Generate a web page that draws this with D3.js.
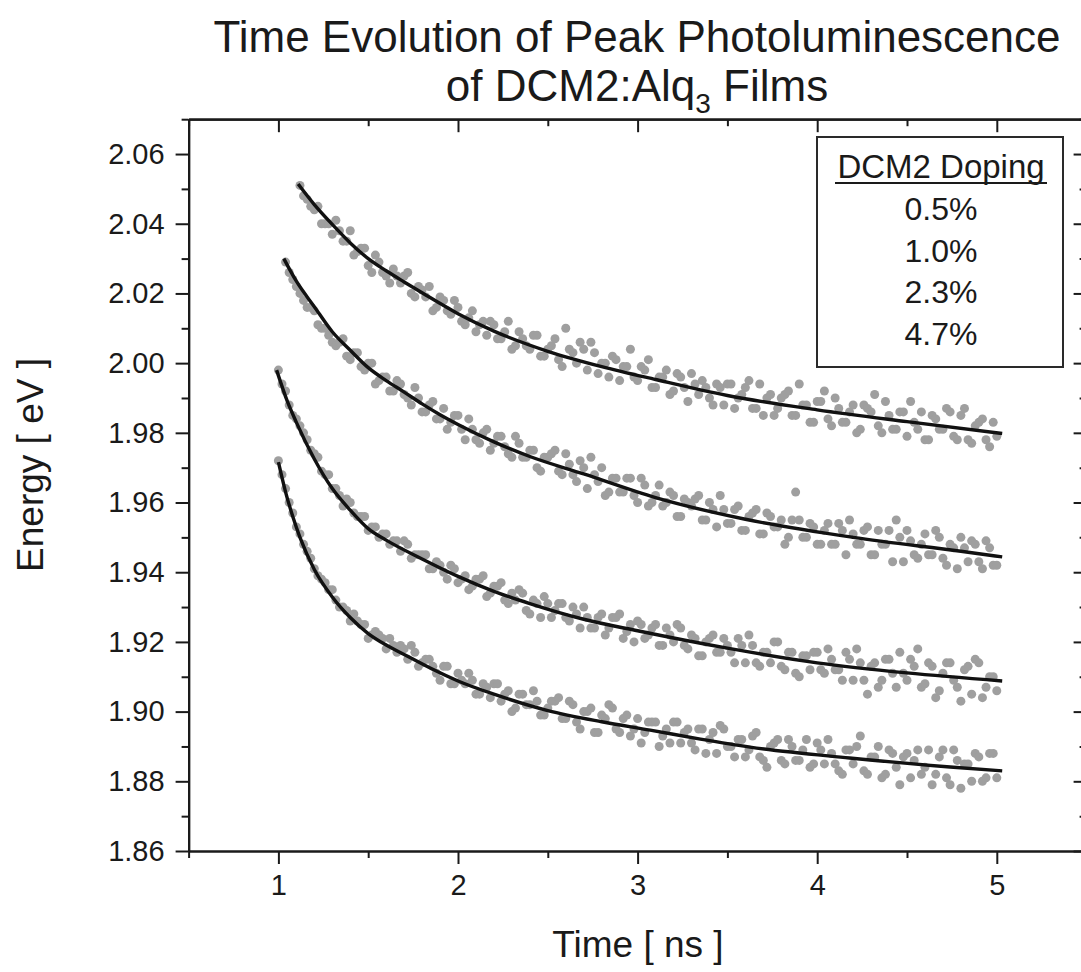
<!DOCTYPE html>
<html>
<head>
<meta charset="utf-8">
<script src="https://cdn.jsdelivr.net/npm/d3@7"></script>
<style>
  body { margin: 0; background: #fff; }
  svg { display: block; font-family: "Liberation Sans", Arial, sans-serif; }
</style>
</head>
<body>
<div id="chart"></div>
<script>
// sample times of the measured peaks (ns)
const times = [1.00,1.02,1.04,1.06,1.08,1.10,1.12,1.14,1.16,1.18,1.20,1.22,1.24,1.26,1.28,1.30,1.32,1.34,1.36,1.38,
  1.40,1.42,1.44,1.46,1.48,1.50,1.52,1.54,1.56,1.58,1.60,1.62,1.64,1.66,1.68,1.70,1.72,1.74,1.76,1.78,
  1.80,1.82,1.84,1.86,1.88,1.90,1.92,1.94,1.96,1.98,2.00,2.02,2.04,2.06,2.08,2.10,2.12,2.14,2.16,2.18,
  2.20,2.22,2.24,2.26,2.28,2.30,2.32,2.34,2.36,2.38,2.40,2.42,2.44,2.46,2.48,2.50,2.52,2.54,2.56,2.58,
  2.60,2.62,2.64,2.66,2.68,2.70,2.72,2.74,2.76,2.78,2.80,2.82,2.84,2.86,2.88,2.90,2.92,2.94,2.96,2.98,
  3.00,3.02,3.04,3.06,3.08,3.10,3.12,3.14,3.16,3.18,3.20,3.22,3.24,3.26,3.28,3.30,3.32,3.34,3.36,3.38,
  3.40,3.42,3.44,3.46,3.48,3.50,3.52,3.54,3.56,3.58,3.60,3.62,3.64,3.66,3.68,3.70,3.72,3.74,3.76,3.78,
  3.80,3.82,3.84,3.86,3.88,3.90,3.92,3.94,3.96,3.98,4.00,4.02,4.04,4.06,4.08,4.10,4.12,4.14,4.16,4.18,
  4.20,4.22,4.24,4.26,4.28,4.30,4.32,4.34,4.36,4.38,4.40,4.42,4.44,4.46,4.48,4.50,4.52,4.54,4.56,4.58,
  4.60,4.62,4.64,4.66,4.68,4.70,4.72,4.74,4.76,4.78,4.80,4.82,4.84,4.86,4.88,4.90,4.92,4.94,4.96,4.98,
  5.00];

const dopings = ["0.5%", "1.0%", "2.3%", "4.7%"];
// index into times where each series begins
const startIndex = [6, 2, 0, 0];

// peak energy (eV), one value per sample
const peak05 = [2.051,2.048,2.047,2.045,2.044,2.045,2.040,2.040,2.040,2.037,2.041,2.038,2.035,2.035,2.038,2.031,2.032,2.033,2.033,2.028,
  2.026,2.031,2.029,2.026,2.025,2.023,2.027,2.025,2.023,2.025,2.026,2.020,2.019,2.022,2.021,2.019,2.022,2.015,2.016,2.019,
  2.018,2.015,2.014,2.018,2.016,2.012,2.011,2.013,2.015,2.009,2.011,2.012,2.008,2.012,2.011,2.007,2.007,2.009,2.012,2.004,
  2.005,2.009,2.007,2.005,2.004,2.008,2.008,2.002,2.002,2.004,2.005,2.007,2.001,1.999,2.010,2.004,2.003,2.000,2.006,2.004,
  1.998,2.006,2.003,1.997,2.000,2.000,1.996,2.002,2.001,1.995,1.999,1.999,2.004,1.996,1.995,1.999,1.998,2.001,1.993,1.993,
  1.996,1.996,1.998,1.991,1.992,1.997,1.996,1.993,1.989,1.997,1.994,1.991,1.995,1.993,1.990,1.988,1.994,1.993,1.988,1.994,
  1.994,1.987,1.990,1.991,1.993,1.995,1.987,1.987,1.994,1.985,1.990,1.991,1.985,1.987,1.990,1.991,1.992,1.985,1.985,1.994,
  1.988,1.988,1.983,1.983,1.989,1.989,1.992,1.984,1.982,1.990,1.987,1.983,1.983,1.986,1.988,1.980,1.981,1.988,1.987,1.986,
  1.991,1.982,1.980,1.989,1.985,1.981,1.981,1.986,1.986,1.979,1.989,1.983,1.981,1.986,1.978,1.978,1.985,1.984,1.981,1.981,
  1.987,1.986,1.979,1.978,1.985,1.987,1.978,1.977,1.982,1.983,1.984,1.978,1.976,1.983,1.979];
const peak10 = [2.029,2.026,2.024,2.022,2.020,2.018,2.016,2.016,2.015,2.011,2.010,2.010,2.008,2.006,2.005,2.006,2.007,2.002,2.001,2.003,
  2.003,1.999,1.998,2.000,2.000,1.994,1.995,1.996,1.996,1.992,1.992,1.995,1.994,1.991,1.990,1.988,1.993,1.990,1.986,1.986,
  1.988,1.989,1.984,1.984,1.987,1.981,1.983,1.985,1.985,1.981,1.978,1.984,1.981,1.978,1.977,1.980,1.981,1.975,1.977,1.979,
  1.979,1.976,1.974,1.973,1.979,1.977,1.973,1.973,1.975,1.975,1.970,1.969,1.973,1.973,1.974,1.975,1.969,1.968,1.974,1.971,
  1.968,1.966,1.972,1.970,1.964,1.973,1.968,1.966,1.970,1.962,1.963,1.967,1.967,1.963,1.963,1.967,1.967,1.962,1.960,1.967,
  1.965,1.959,1.960,1.962,1.965,1.959,1.960,1.963,1.962,1.956,1.956,1.961,1.960,1.959,1.961,1.962,1.955,1.955,1.960,1.958,
  1.953,1.962,1.958,1.954,1.954,1.958,1.959,1.952,1.952,1.956,1.957,1.958,1.951,1.951,1.957,1.956,1.953,1.953,1.955,1.948,
  1.950,1.955,1.963,1.955,1.950,1.950,1.954,1.953,1.948,1.948,1.952,1.954,1.948,1.948,1.954,1.952,1.945,1.955,1.951,1.948,
  1.948,1.952,1.953,1.945,1.945,1.952,1.948,1.948,1.952,1.943,1.955,1.950,1.943,1.952,1.949,1.945,1.944,1.948,1.951,1.945,
  1.945,1.952,1.950,1.944,1.942,1.948,1.947,1.941,1.950,1.947,1.943,1.949,1.948,1.943,1.941,1.949,1.947,1.942,1.942];
const peak23 = [1.998,1.994,1.992,1.988,1.985,1.984,1.982,1.980,1.978,1.975,1.974,1.973,1.969,1.968,1.968,1.964,1.964,1.962,1.959,1.961,
  1.960,1.957,1.956,1.956,1.956,1.952,1.953,1.953,1.950,1.951,1.951,1.948,1.949,1.949,1.946,1.949,1.948,1.944,1.945,1.945,
  1.945,1.945,1.941,1.941,1.943,1.942,1.940,1.938,1.942,1.941,1.937,1.938,1.939,1.935,1.936,1.938,1.938,1.939,1.933,1.934,
  1.936,1.936,1.937,1.932,1.931,1.934,1.932,1.935,1.934,1.929,1.928,1.932,1.931,1.927,1.933,1.931,1.927,1.929,1.931,1.931,
  1.927,1.926,1.930,1.928,1.924,1.930,1.927,1.924,1.924,1.927,1.928,1.922,1.924,1.927,1.927,1.928,1.921,1.923,1.925,1.920,
  1.926,1.925,1.921,1.922,1.924,1.925,1.919,1.919,1.924,1.922,1.920,1.925,1.924,1.919,1.918,1.922,1.921,1.916,1.916,1.920,
  1.921,1.922,1.917,1.917,1.921,1.919,1.917,1.914,1.921,1.919,1.914,1.922,1.919,1.914,1.913,1.917,1.917,1.914,1.920,1.920,
  1.913,1.912,1.917,1.917,1.911,1.910,1.916,1.916,1.912,1.917,1.917,1.912,1.911,1.918,1.915,1.912,1.912,1.909,1.917,1.915,
  1.909,1.918,1.914,1.909,1.905,1.913,1.914,1.907,1.909,1.915,1.915,1.911,1.907,1.917,1.911,1.909,1.915,1.913,1.918,1.907,
  1.908,1.914,1.913,1.904,1.906,1.911,1.914,1.914,1.909,1.907,1.903,1.912,1.913,1.905,1.915,1.914,1.904,1.907,1.910,1.910,
  1.906];
const peak47 = [1.972,1.968,1.964,1.960,1.957,1.953,1.951,1.948,1.946,1.944,1.941,1.939,1.938,1.937,1.935,1.935,1.932,1.930,1.930,1.929,
  1.926,1.928,1.926,1.925,1.925,1.921,1.922,1.923,1.922,1.921,1.918,1.921,1.919,1.917,1.919,1.918,1.915,1.919,1.917,1.913,
  1.914,1.915,1.915,1.913,1.911,1.909,1.913,1.913,1.908,1.908,1.911,1.909,1.908,1.911,1.909,1.905,1.905,1.908,1.907,1.904,
  1.908,1.908,1.903,1.905,1.906,1.900,1.901,1.905,1.905,1.902,1.902,1.906,1.903,1.899,1.899,1.901,1.903,1.903,1.904,1.898,
  1.898,1.903,1.902,1.897,1.895,1.900,1.900,1.901,1.894,1.894,1.899,1.898,1.902,1.901,1.895,1.894,1.898,1.899,1.893,1.895,
  1.898,1.891,1.894,1.897,1.897,1.897,1.890,1.893,1.895,1.891,1.897,1.897,1.891,1.894,1.895,1.891,1.889,1.895,1.895,1.888,
  1.892,1.894,1.888,1.896,1.895,1.890,1.890,1.887,1.892,1.892,1.887,1.889,1.893,1.894,1.887,1.886,1.884,1.890,1.891,1.892,
  1.886,1.885,1.892,1.890,1.886,1.886,1.889,1.892,1.884,1.885,1.891,1.889,1.885,1.892,1.888,1.885,1.883,1.882,1.889,1.889,
  1.885,1.890,1.893,1.883,1.882,1.887,1.887,1.890,1.881,1.882,1.889,1.888,1.884,1.879,1.887,1.888,1.881,1.886,1.889,1.882,
  1.884,1.889,1.879,1.882,1.887,1.889,1.881,1.879,1.889,1.886,1.878,1.885,1.885,1.880,1.888,1.887,1.880,1.881,1.888,1.888,
  1.881];

// fitted decay curves, [time, energy]
const fit05 = [[1.11,2.0514],[1.2,2.0455],[1.3,2.0398],[1.4,2.0345],[1.5,2.0300],[1.6,2.0265],[1.7,2.0233],[1.8,2.0202],
  [2.0,2.0142],[2.2,2.0092],[2.5,2.0034],[2.8,1.9990],[3.1,1.9953],[3.5,1.9907],[4.0,1.9866],[4.5,1.9832],[5.03,1.9798]];
const fit10 = [[1.03,2.0300],[1.1,2.0235],[1.2,2.0162],[1.3,2.0090],[1.4,2.0037],[1.5,1.9987],[1.6,1.9950],[1.7,1.9917],
  [1.8,1.9883],[1.9,1.9852],[2.0,1.9824],[2.2,1.9774],[2.4,1.9732],[2.7,1.9682],[3.1,1.9614],[3.6,1.9552],[4.2,1.9500],
  [4.8,1.9460],[5.03,1.9444]];
const fit23 = [[0.99,1.9980],[1.05,1.9890],[1.1,1.9830],[1.2,1.9725],[1.3,1.9640],[1.4,1.9578],[1.5,1.9525],[1.6,1.9492],
  [1.8,1.9438],[2.0,1.9388],[2.2,1.9345],[2.4,1.9310],[2.7,1.9265],[3.0,1.9232],[3.5,1.9182],[4.0,1.9140],[4.5,1.9111],
  [5.03,1.9088]];
const fit47 = [[1.0,1.9716],[1.04,1.9630],[1.08,1.9560],[1.12,1.9500],[1.2,1.9408],[1.3,1.9329],[1.4,1.9270],[1.5,1.9224],
  [1.6,1.9191],[1.7,1.9164],[1.845,1.9125],[2.0,1.9088],[2.2,1.9050],[2.5,1.9003],[2.8,1.8971],[3.07,1.8947],[3.35,1.8921],
  [3.626,1.8898],[4.18,1.8867],[4.74,1.8841],[5.03,1.8830]];

const peaks = [peak05, peak10, peak23, peak47];
const fits = [fit05, fit10, fit23, fit47];

const xMajor = [1, 2, 3, 4, 5];
const xMinor = [0.5, 1.5, 2.5, 3.5, 4.5, 5.5];
const yMajor = [1.86, 1.88, 1.90, 1.92, 1.94, 1.96, 1.98, 2.00, 2.02, 2.04, 2.06];
const yMinor = [1.87, 1.89, 1.91, 1.93, 1.95, 1.97, 1.99, 2.01, 2.03, 2.05, 2.07];

const width = 1081, height = 972;
const box = { left: 188.6, right: 1086.6, top: 119.2, bottom: 851 };

const svg = d3.select("#chart").append("svg")
  .attr("width", width)
  .attr("height", height);

const x = d3.scaleLinear().domain([0.5, 5.5]).range([box.left, box.right]);
const y = d3.scaleLinear().domain([1.86, 2.07]).range([box.bottom, box.top]);

// title
const title = svg.append("text")
  .attr("text-anchor", "middle")
  .attr("font-size", 44)
  .attr("fill", "#1a1a1a");
title.append("tspan").attr("x", 637).attr("y", 52).text("Time Evolution of Peak Photoluminescence");
const t2 = title.append("tspan").attr("x", 637).attr("y", 101);
t2.append("tspan").text("of DCM2:Alq");
t2.append("tspan").attr("font-size", 28).attr("dy", 12).text("3");
t2.append("tspan").attr("dy", -12).text(" Films");

// data points
peaks.forEach((vals, i) => {
  const pts = vals.map((v, j) => [times[startIndex[i] + j], v]).filter(d => d[0] !== undefined);
  svg.append("g")
    .selectAll("circle")
    .data(pts)
    .join("circle")
    .attr("cx", d => x(d[0]))
    .attr("cy", d => y(d[1]))
    .attr("r", 4.5)
    .attr("fill", "#9f9f9f");
});

// fitted curves
const line = d3.line()
  .x(d => x(d[0]))
  .y(d => y(d[1]))
  .curve(d3.curveMonotoneX);

fits.forEach(f => {
  svg.append("path")
    .attr("d", line(f))
    .attr("fill", "none")
    .attr("stroke", "#111")
    .attr("stroke-width", 3.4);
});

// axes
function styleAxis(g) {
  g.selectAll("path").attr("stroke", "#1a1a1a").attr("stroke-width", 2.2);
  g.selectAll("line").attr("stroke", "#1a1a1a").attr("stroke-width", 2);
  g.selectAll("text").attr("fill", "#1a1a1a").attr("font-family", "Liberation Sans, Arial, sans-serif");
}

svg.append("g")
  .attr("transform", `translate(0,${box.bottom})`)
  .call(d3.axisBottom(x).tickValues(xMinor).tickSize(7).tickSizeOuter(0).tickFormat(""))
  .call(styleAxis);
svg.append("g")
  .attr("transform", `translate(0,${box.bottom})`)
  .call(d3.axisBottom(x).tickValues(xMajor).tickSize(13).tickSizeOuter(0).tickPadding(10).tickFormat(d3.format("d")))
  .call(g => g.selectAll("text").attr("font-size", 29))
  .call(styleAxis);

svg.append("g")
  .attr("transform", `translate(${box.left},0)`)
  .call(d3.axisLeft(y).tickValues(yMinor).tickSize(7).tickSizeOuter(0).tickFormat(""))
  .call(styleAxis);
svg.append("g")
  .attr("transform", `translate(${box.left},0)`)
  .call(d3.axisLeft(y).tickValues(yMajor).tickSize(13).tickSizeOuter(0).tickPadding(11).tickFormat(d3.format(".2f")))
  .call(g => g.selectAll("text").attr("font-size", 29))
  .call(styleAxis);

// mirrored axes, ticks inward
svg.append("g")
  .attr("transform", `translate(0,${box.top})`)
  .call(d3.axisTop(x).tickValues(xMinor).tickSize(-7).tickSizeOuter(0).tickFormat(""))
  .call(styleAxis);
svg.append("g")
  .attr("transform", `translate(0,${box.top})`)
  .call(d3.axisTop(x).tickValues(xMajor).tickSize(-13).tickSizeOuter(0).tickFormat(""))
  .call(styleAxis);
svg.append("g")
  .attr("transform", `translate(${box.right},0)`)
  .call(d3.axisRight(y).tickValues(yMinor).tickSize(-7).tickSizeOuter(0).tickFormat(""))
  .call(styleAxis);
svg.append("g")
  .attr("transform", `translate(${box.right},0)`)
  .call(d3.axisRight(y).tickValues(yMajor).tickSize(-13).tickSizeOuter(0).tickFormat(""))
  .call(styleAxis);

// axis titles
svg.append("text")
  .attr("transform", `translate(43,465) rotate(-90)`)
  .attr("text-anchor", "middle")
  .attr("font-size", 37)
  .attr("fill", "#1a1a1a")
  .text("Energy [ eV ]");

svg.append("text")
  .attr("x", 638)
  .attr("y", 957)
  .attr("text-anchor", "middle")
  .attr("font-size", 37)
  .attr("fill", "#1a1a1a")
  .text("Time [ ns ]");

// legend
const legend = svg.append("g");
legend.append("rect")
  .attr("x", 817).attr("y", 137)
  .attr("width", 246).attr("height", 230)
  .attr("fill", "#fff")
  .attr("stroke", "#2a2a2a")
  .attr("stroke-width", 2);
legend.append("text")
  .attr("x", 941).attr("y", 178)
  .attr("text-anchor", "middle")
  .attr("font-size", 33)
  .attr("fill", "#1a1a1a")
  .text("DCM2 Doping");
legend.append("line")
  .attr("x1", 835).attr("x2", 1047)
  .attr("y1", 183).attr("y2", 183)
  .attr("stroke", "#1a1a1a")
  .attr("stroke-width", 2.2);
legend.selectAll(".row")
  .data(dopings)
  .join("text")
  .attr("class", "row")
  .attr("x", 941)
  .attr("y", (d, i) => 220 + i * 41.5)
  .attr("text-anchor", "middle")
  .attr("font-size", 32)
  .attr("fill", "#1a1a1a")
  .text(d => d);
</script>
</body>
</html>
